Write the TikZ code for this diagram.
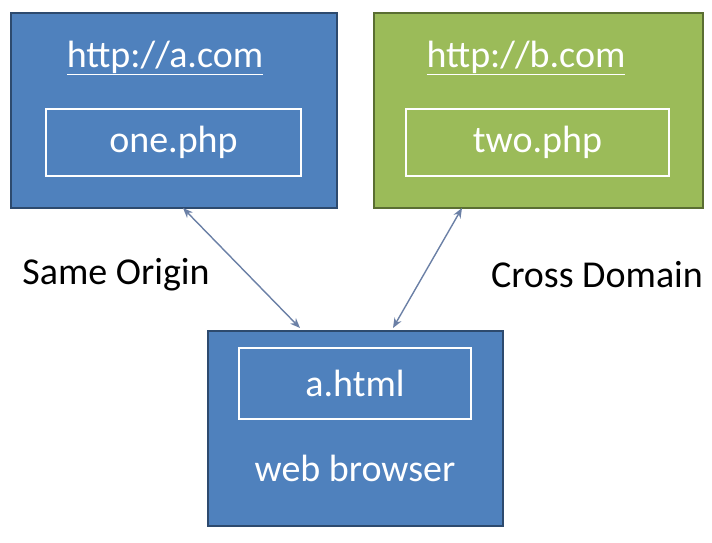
\documentclass[tikz,border=0pt]{standalone}
\usepackage{fontspec}
\setmainfont{Carlito}
\usetikzlibrary{positioning, arrows.meta}
\definecolor{boxblue}{HTML}{4F81BD}
\definecolor{edgeblue}{HTML}{385D8A}
\definecolor{boxgreen}{HTML}{9BBB59}
\definecolor{edgegreen}{HTML}{71893F}
\definecolor{linkgray}{HTML}{6B80A6}
\tikzset{
  site/.style={draw=#1!80!black, line width=1.5pt, minimum width=326pt, minimum height=195pt, anchor=north west},
  page/.style={draw=white, line width=2pt, anchor=north west},
  title/.style={text=white, font=\fontsize{38}{42}\selectfont},
  note/.style={font=\fontsize{38}{42}\selectfont},
  link/.style={{Stealth[length=10pt,width=8pt]}-{Stealth[length=10pt,width=8pt]}, linkgray, line width=1.4pt}
}
\begin{document}
\begin{tikzpicture}[x=1pt,y=-1pt]
  \useasboundingbox (0,0) rectangle (712,542);
  % the three boxes
  \node[site=edgeblue, fill=boxblue] (acom) at (10,12) {};
  \node[site=edgegreen, fill=boxgreen, minimum width=329pt] (bcom) at (373,12) {};
  \node[site=edgeblue, fill=boxblue, minimum width=295pt] (browser) at (207,330) {};
  % texts and inner pages
  \node[title] (atitle) at (165,58) {\underline{http://a.com}};
  \node[title] (btitle) at (526,58) {\underline{http://b.com}};
  \node[page, minimum width=255pt, minimum height=67pt] (one) at (45,108) {};
  \node[title] at (one.center) {one.php};
  \node[page, minimum width=263pt, minimum height=67pt] (two) at (405,108) {};
  \node[title] at (two.center) {two.php};
  \node[page, minimum width=232pt, minimum height=71pt] (ahtml) at (238,347) {};
  \node[title] at (ahtml.center) {a.html};
  \node[title] (wb) at (355,468) {web browser};
  % labels
  \node[note] (same) at (116,275) {Same Origin};
  \node[note] (cross) at (597,275) {Cross Domain};
  % connectors
  \coordinate (p1) at (183,208);
  \coordinate (p2) at (300,328);
  \coordinate (q1) at (462,208);
  \coordinate (q2) at (393,328);
  \draw[link] (p1) -- (p2);
  \draw[link] (q1) -- (q2);
\end{tikzpicture}
\end{document}
